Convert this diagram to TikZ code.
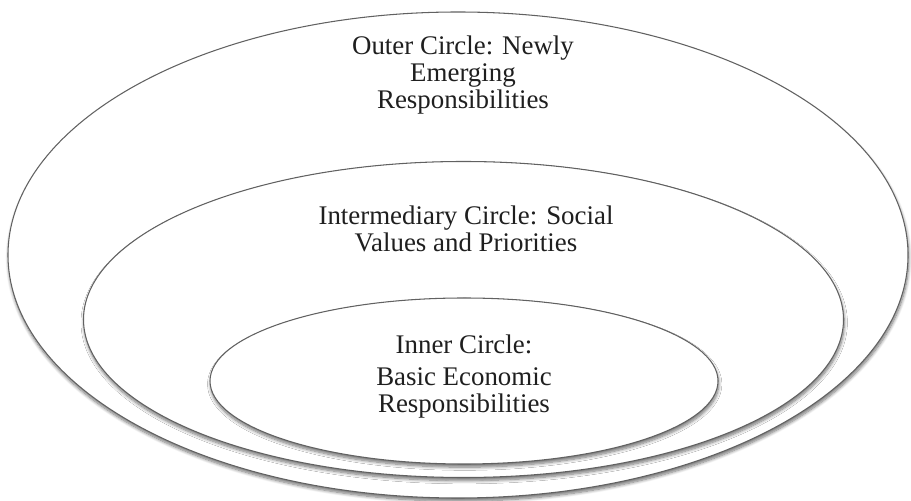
\documentclass[tikz,border=0pt]{standalone}
\usepackage{fontspec}
\setmainfont{Liberation Serif}
\usetikzlibrary{shadows.blur}

\begin{document}
\begin{tikzpicture}
[
  ring/.style={draw=black!62, line width=0.6pt, fill=white,
    blur shadow={shadow xshift=0.4pt, shadow yshift=-1.8pt, shadow blur radius=1.8pt,
      shadow blur steps=8, shadow opacity=55}}
, every node/.style={font=\fontsize{15.3}{15.4}\selectfont, text=black!88, align=center, inner sep=0pt}
]

\useasboundingbox (0,0) rectangle (18.22,10.02);

% circles
\path[ring] (9.16,4.92) ellipse (9.0 and 4.86);
\path[ring] (9.27,3.63) ellipse (7.6 and 3.16);
\path[ring] (9.28,2.40) ellipse (5.08 and 1.66);

% labels (base = last line)
\node[anchor=base] (outerlabel) at (9.26,7.84) {Outer Circle: Newly\\Emerging\\Responsibilities};
\node[anchor=base] (midlabel) at (9.32,4.98) {Intermediary Circle: Social\\Values and Priorities};
\node[anchor=base] (innerlabel) at (9.28,1.76) {Inner Circle:\\[3pt]Basic Economic\\Responsibilities};

\end{tikzpicture}
\end{document}
